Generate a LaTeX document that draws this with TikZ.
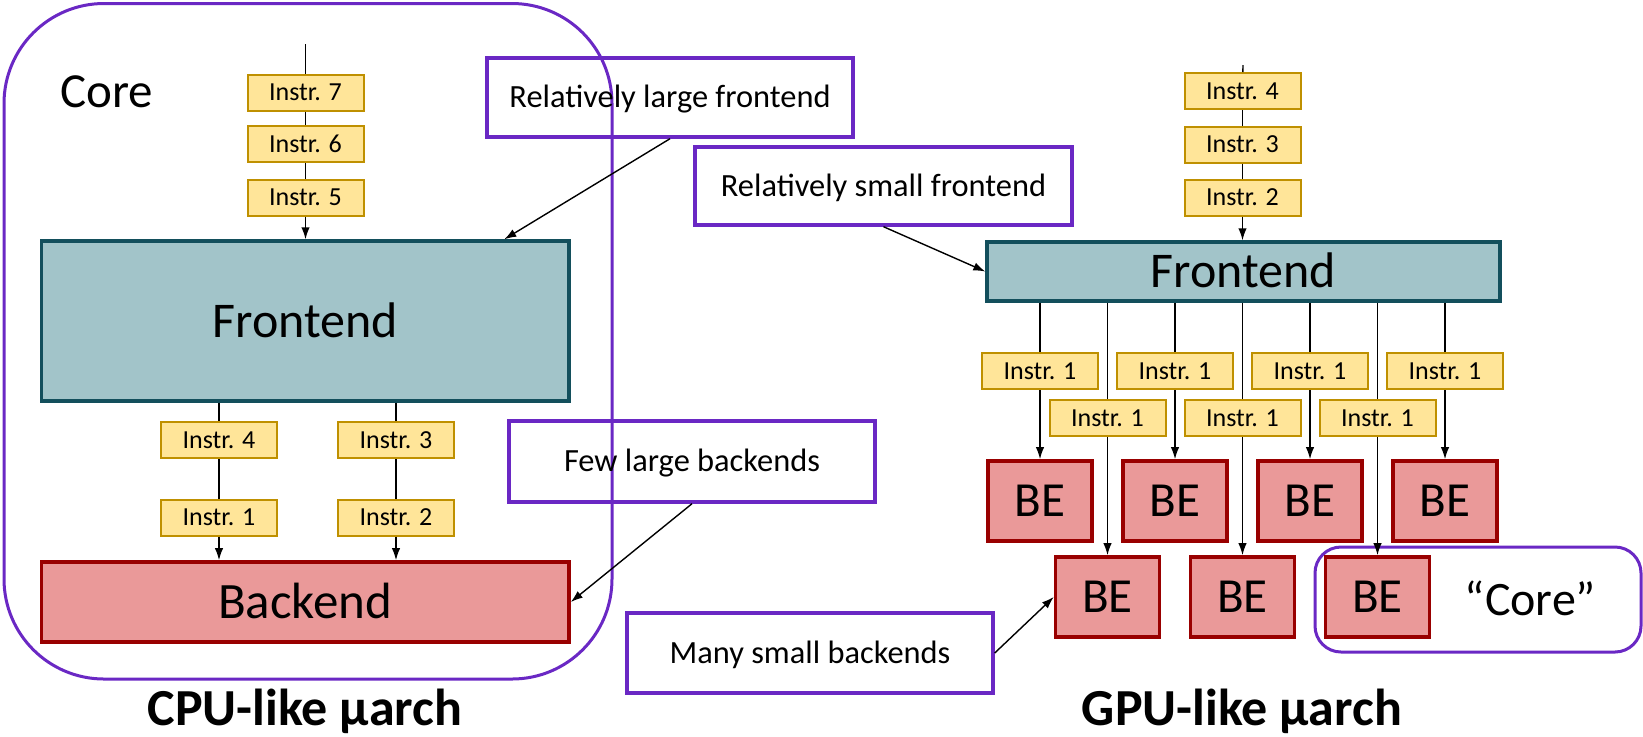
\documentclass[tikz,border=0pt]{standalone}
\usepackage{fontspec}
\setmainfont{Carlito}
\usetikzlibrary{arrows.meta,calc}

\definecolor{instrfill}{HTML}{FFE599}
\definecolor{instrline}{HTML}{BF9000}
\definecolor{fefill}{HTML}{A2C4C9}
\definecolor{feline}{HTML}{134F5C}
\definecolor{befill}{HTML}{EA9999}
\definecolor{beline}{HTML}{990000}
\definecolor{grp}{HTML}{6A28C4}

\begin{document}
\begin{tikzpicture}[x=0.5pt,y=-0.5pt,
  instr/.style={draw=instrline, fill=instrfill, line width=1pt,
    minimum width=58pt, minimum height=18pt, inner sep=0pt,
    font=\fontsize{13}{15}\selectfont, text height=8.3pt, text depth=0pt},
  frontbox/.style={draw=feline, fill=fefill, line width=1.7pt, inner sep=0pt,
    font=\fontsize{25}{28}\selectfont, text height=16pt, text depth=0pt},
  backbox/.style={draw=beline, fill=befill, line width=1.8pt, inner sep=0pt,
    font=\fontsize{24.5}{27}\selectfont, text height=15.7pt, text depth=0pt},
  bebox/.style={backbox, minimum width=52pt, minimum height=40pt},
  note/.style={draw=grp, line width=1.7pt, inner sep=0pt,
    minimum width=183pt, minimum height=39.5pt,
    font=\fontsize{16.2}{19}\selectfont, text height=10.4pt, text depth=0pt},
  group/.style={draw=grp, line width=1.5pt},
  title/.style={font=\fontsize{26}{29}\selectfont\bfseries, inner sep=0pt, anchor=base},
  conn/.style={line width=0.7pt},
  arr/.style={conn, -{Latex[length=6pt,width=4.2pt]}}
]
\useasboundingbox (0,0) rectangle (1643,736);

% ---------------- CPU-like core ----------------
\draw[group, rounded corners=50pt] (4,3.5) rectangle (612,679);
\node[font=\fontsize{24.5}{27}\selectfont, inner sep=0pt, anchor=base] (corelbl) at (106.5,107) {Core};

\node[instr] (i7) at (305.5,92.5) {Instr. 7};
\node[instr] (i6) at (305.5,144) {Instr. 6};
\node[instr] (i5) at (305.5,197.5) {Instr. 5};

\node[frontbox, minimum width=263.75pt, minimum height=80pt] (fe1) at (305.25,321) {Frontend};

\node[instr] (i4) at (219,440) {Instr. 4};
\node[instr] (i3) at (396,440) {Instr. 3};
\node[instr] (i1) at (219,517.5) {Instr. 1};
\node[instr] (i2) at (396,517.5) {Instr. 2};

\node[backbox, font=\fontsize{25.5}{28}\selectfont, text height=16.3pt,
      minimum width=263.75pt, minimum height=40pt] (be1) at (305.25,602) {Backend};

\coordinate (ltop) at (305.5,44);
\draw[conn] (ltop) -- (i7);
\draw[conn] (i7) -- (i6);
\draw[conn] (i6) -- (i5);
\draw[arr] (i5) -- (i5 |- fe1.north);
\draw[conn] (i4 |- fe1.south) -- (i4);
\draw[conn] (i3 |- fe1.south) -- (i3);
\draw[conn] (i4) -- (i1);
\draw[conn] (i3) -- (i2);
\draw[arr] (i1) -- (i1 |- be1.north);
\draw[arr] (i2) -- (i2 |- be1.north);

\node[title] (cputitle) at (305,725) {CPU-like µarch};

% ---------------- callouts ----------------
\node[note] (rlf) at (670,97.5) {Relatively large frontend};
\node[note, minimum width=188.5pt, minimum height=39pt] (rsf) at (883.5,186) {Relatively small frontend};
\node[note, minimum height=40.5pt] (flb) at (692,461.5) {Few large backends};
\node[note, minimum height=40pt] (msb) at (810,653) {Many small backends};

\draw[arr] (rlf.south) -- ([xshift=232.25pt]fe1.north west);
\draw[arr] (flb.south) -- (be1.east);

% ---------------- GPU-like core ----------------
\node[instr] (g4) at (1242.5,91) {Instr. 4};
\node[instr] (g3) at (1242.5,144.5) {Instr. 3};
\node[instr] (g2) at (1242.5,197.5) {Instr. 2};

\node[frontbox, minimum width=256.5pt, minimum height=29.5pt] (fe2) at (1243.5,271.5) {Frontend};

\draw[arr] (rsf.south) -- (fe2.west);

\coordinate (gtop) at (1243,65);
\draw[conn] (gtop) -- (g4);
\draw[conn] (g4) -- (g3);
\draw[conn] (g3) -- (g2);
\draw[arr] (g2) -- (g2 |- fe2.north);

% first row of instructions and backends
\foreach \n/\x in {a/1040,b/1175,c/1310,d/1445}{
  \node[instr] (r1\n) at (\x,371) {Instr. 1};
  \node[bebox] (t\n) at (\x,501) {BE};
  \draw[conn] (r1\n |- fe2.south) -- (r1\n);
  \draw[arr] (r1\n) -- (t\n);
}

% "Core" group around one backend
\draw[group, rounded corners=13pt] (1315,547) rectangle (1641,652);
\node[font=\fontsize{24}{27}\selectfont, inner sep=0pt, anchor=base] (corequote) at (1530.5,615) {“Core”};

% second row of instructions and backends
\foreach \n/\x in {a/1107.5,b/1242.5,c/1377.5}{
  \node[instr] (r2\n) at (\x,418) {Instr. 1};
  \node[bebox] (u\n) at (\x,597) {BE};
  \draw[conn] (r2\n |- fe2.south) -- (r2\n);
  \draw[arr] (r2\n) -- (u\n);
}

\draw[arr] (msb.east) -- (ua.west);

\node[title] (gputitle) at (1242,725) {GPU-like µarch};
\end{tikzpicture}
\end{document}
